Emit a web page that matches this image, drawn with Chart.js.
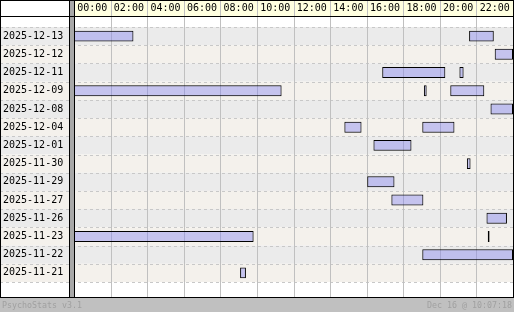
<!DOCTYPE html>
<html>
<head>
<meta charset="utf-8">
<script src="https://cdn.jsdelivr.net/npm/chart.js@4/dist/chart.umd.min.js"></script>
<style>
  body { margin: 0; background: #fff; }
  #wrap { width: 514px; height: 312px; }
</style>
</head>
<body>
<div id="wrap"><canvas id="myChart" width="514" height="312"></canvas></div>
<script>
// one row per day, bars are [start hour, end hour]
const dates = ['2025-12-13', '2025-12-12', '2025-12-11', '2025-12-09', '2025-12-08', '2025-12-04', '2025-12-01',
  '2025-11-30', '2025-11-29', '2025-11-27', '2025-11-26', '2025-11-23', '2025-11-22', '2025-11-21'];

const session1 = [[0, 3.25], [23.0, 24], [16.85, 20.3], [0, 11.35], [22.77, 24], [14.78, 15.72], [16.37, 18.45],
  [21.48, 21.68], [16.03, 17.52], [17.35, 19.1], [22.55, 23.67], [0, 9.82], [19.04, 24], [9.08, 9.4]];
const session2 = [[21.6, 22.95], null, [21.07, 21.3], [19.13, 19.28], null, [19.04, 20.8], null,
  null, null, null, null, [22.62, 22.72], null, null];
const session3 = [null, null, null, [20.57, 22.43], null, null, null,
  null, null, null, null, null, null, null];

const hourTicks = [0, 2, 4, 6, 8, 10, 12, 14, 16, 18, 20, 22];

const footerLeft = 'PsychoStats v3.1';
const footerRight = 'Dec 16 @ 10:07:18';

const mono = 'DejaVu Sans Mono';
const barFill = 'rgba(130, 130, 240, 0.42)';

function line(ctx, x1, y1, x2, y2) {
  ctx.beginPath();
  ctx.moveTo(x1, y1);
  ctx.lineTo(x2, y2);
  ctx.stroke();
}

const frame = {
  id: 'frame',
  beforeDraw(chart) {
    const ctx = chart.ctx;
    const a = chart.chartArea;
    const x = chart.scales.x, y = chart.scales.y;
    const W = chart.width, H = chart.height;
    const headB = 16, foot = 297;
    const rowH = (a.bottom - a.top) / dates.length;
    ctx.save();
    ctx.fillStyle = '#fff';
    ctx.fillRect(0, 0, W, H);
    // header
    ctx.fillStyle = '#ffffe0';
    ctx.fillRect(a.left, 0, a.right - a.left, headB);
    // row stripes
    dates.forEach((d, i) => {
      const c = y.getPixelForValue(i);
      ctx.fillStyle = i % 2 ? '#f4f1ec' : '#ebebeb';
      ctx.fillRect(0, c - rowH / 2, a.right, rowH);
    });
    // dashed row separators
    ctx.strokeStyle = '#c8c8c8';
    ctx.lineWidth = 1;
    ctx.setLineDash([3, 3]);
    for (let i = 0; i <= dates.length; i++) {
      const yy = Math.round(a.top + i * rowH) + 0.5;
      line(ctx, 0, yy, a.right, yy);
    }
    ctx.setLineDash([]);
    // hour grid
    ctx.strokeStyle = '#c0c0c0';
    hourTicks.forEach(h => {
      if (h === 0) return;
      const xx = Math.round(x.getPixelForValue(h)) + 0.5;
      line(ctx, xx, 0, xx, foot);
    });
    // footer
    ctx.fillStyle = '#c0c0c0';
    ctx.fillRect(0, foot, W, H - foot);
    ctx.fillStyle = '#a0a0a0';
    ctx.font = '8.3px "' + mono + '"';
    ctx.textBaseline = 'middle';
    ctx.textAlign = 'left';
    ctx.fillText(footerLeft, 2, 305.5);
    ctx.textAlign = 'right';
    ctx.fillText(footerRight, W - 2, 305.5);
    ctx.restore();
  },
  afterDatasetsDraw(chart) {
    const ctx = chart.ctx;
    const a = chart.chartArea;
    const W = chart.width;
    const foot = 297;
    ctx.save();
    ctx.fillStyle = '#a8a8a8';
    ctx.fillRect(70, 0, 4, foot);
    ctx.strokeStyle = '#000';
    ctx.lineWidth = 1;
    line(ctx, 0, 0.5, W, 0.5);
    line(ctx, 0, 16.5, W, 16.5);
    line(ctx, 0, foot + 0.5, W, foot + 0.5);
    line(ctx, 0.5, 0, 0.5, foot);
    line(ctx, 69.5, 0, 69.5, foot);
    line(ctx, 74.5, 0, 74.5, foot);
    line(ctx, W - 0.5, 0, W - 0.5, foot);
    ctx.restore();
  }
};

const barOpts = {
  backgroundColor: barFill,
  borderColor: '#000',
  borderWidth: 1,
  borderSkipped: false,
  grouped: false,
  barPercentage: 0.6,
  categoryPercentage: 1
};

var ctx = document.getElementById('myChart');

var myChart = new Chart(ctx, {
  type: 'bar',
  data: {
    labels: dates,
    datasets: [
      Object.assign({ data: session1 }, barOpts),
      Object.assign({ data: session2 }, barOpts),
      Object.assign({ data: session3 }, barOpts)
    ]
  },
  options: {
    indexAxis: 'y',
    responsive: false,
    animation: false,
    layout: { padding: { left: 3, right: 1, top: 0, bottom: 30 } },
    scales: {
      x: {
        type: 'linear',
        position: 'top',
        min: 0,
        max: 24,
        afterFit: s => { s.height = 27; },
        afterBuildTicks: s => { s.ticks = hourTicks.map(v => ({ value: v })); },
        grid: { display: false, drawTicks: false },
        border: { display: false },
        ticks: {
          autoSkip: false,
          maxRotation: 0,
          padding: 13,
          labelOffset: 18.3,
          color: '#000',
          font: { family: mono, size: 10 },
          callback: v => String(v).padStart(2, '0') + ':00'
        }
      },
      y: {
        afterFit: s => { s.width = 71; },
        grid: { display: false, drawTicks: false },
        border: { display: false },
        ticks: {
          padding: 0,
          crossAlign: 'far',
          color: '#000',
          font: { family: mono, size: 10 }
        }
      }
    },
    plugins: {
      legend: { display: false },
      tooltip: { enabled: false }
    }
  },
  plugins: [frame]
});
</script>
</body>
</html>
